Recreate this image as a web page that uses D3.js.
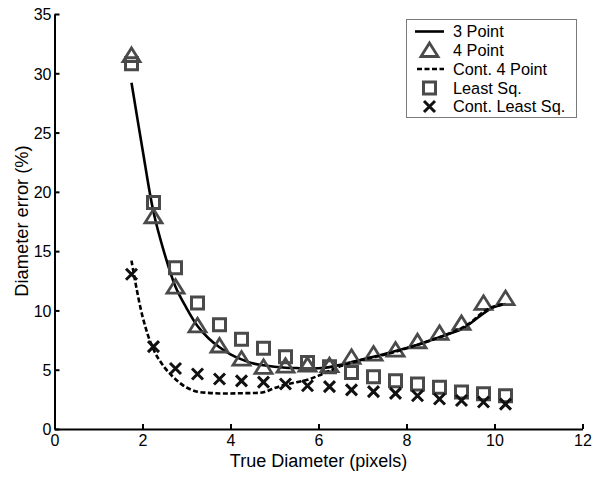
<!DOCTYPE html>
<html><head><meta charset="utf-8">
<script src="https://cdn.jsdelivr.net/npm/d3@7"></script>
<style>
body{margin:0;background:#fff;}
text{font-family:"Liberation Sans",Arial,sans-serif;}
</style></head>
<body><svg id="c" width="604" height="477"></svg>
<script>
// Marker x positions (true diameter, pixels)
const markerX = [1.75,2.25,2.75,3.25,3.75,4.25,4.75,5.25,5.75,6.25,6.75,7.25,7.75,8.25,8.75,9.25,9.75,10.25];
// 4 Point (triangles)
const fourPoint = [31.5,17.9,11.97,8.7,7.0,5.9,5.2,5.3,5.38,5.34,6.05,6.32,6.66,7.36,8.07,8.9,10.6,11.0];
// Least Sq. (squares)
const leastSq = [30.8,19.1,13.6,10.62,8.8,7.56,6.8,6.1,5.6,5.25,4.76,4.4,4.07,3.8,3.53,3.12,2.97,2.81];
// Cont. Least Sq. (x)
const contLeastSq = [13.05,6.95,5.1,4.64,4.22,4.06,3.95,3.8,3.65,3.57,3.3,3.15,3.0,2.8,2.53,2.4,2.28,2.1];
// Curve x positions
const curveX = [1.75,2.0,2.25,2.5,2.75,3.0,3.25,3.5,3.75,4.0,4.25,4.5,4.75,5.0,5.25,5.5,5.75,6.0,6.25,6.5,6.75,7.0,7.25,7.5,7.75,8.0,8.25,8.5,8.75,9.0,9.25,9.5,9.75,10.0,10.25];
// 3 Point (solid line)
const threePoint = [29.2,23.6,18.3,14.8,12.0,10.2,8.68,7.65,6.89,6.3,5.87,5.54,5.37,5.25,5.17,5.14,5.11,5.12,5.22,5.42,5.64,5.87,6.1,6.32,6.58,6.83,7.11,7.42,7.73,8.07,8.4,9.05,9.75,10.3,10.55];
// Cont. 4 Point (dashed line)
const contFourPoint = [14.2,9.5,6.7,5.2,4.2,3.5,3.15,3.05,3.0,3.0,3.02,3.03,3.1,3.45,3.75,3.95,4.15,4.5,4.9,5.3,5.6,5.85,6.05,6.27,6.52,6.8,7.1,7.4,7.75,8.1,8.5,9.1,9.9,10.35,10.55];
const xTicks = [0,2,4,6,8,10,12];
const yTicks = [0,5,10,15,20,25,30,35];
const legendLabels = ["3 Point","4 Point","Cont. 4 Point","Least Sq.","Cont. Least Sq."];
const xTitle = "True Diameter (pixels)";
const yTitle = "Diameter error (%)";

const svg = d3.select("#c");
const x = d3.scaleLinear().domain([0,12]).range([54.5,582.5]);
const y = d3.scaleLinear().domain([0,35]).range([429,14]);
const gray = "#4a4a4a";

// axes
const gx = svg.append("g").attr("transform","translate(0,429)")
  .call(d3.axisBottom(x).tickValues(xTicks).tickSizeInner(-5).tickSizeOuter(0).tickPadding(6));
const gy = svg.append("g").attr("transform","translate(54.5,0)")
  .call(d3.axisLeft(y).tickValues(yTicks).tickSizeInner(-5).tickSizeOuter(0).tickPadding(3));
[gx,gy].forEach(g=>{
  g.select(".domain").attr("stroke","#000").attr("stroke-width",2);
  g.selectAll(".tick line").attr("stroke","#000").attr("stroke-width",2);
  g.selectAll(".tick text").attr("fill","#000").style("font-size","16px").style("font-family","'Liberation Sans',Arial,sans-serif");
});
gy.selectAll(".tick text").attr("dy","0.36em");

svg.append("text").attr("x",318.5).attr("y",466.5).attr("text-anchor","middle")
  .style("font-size","18px").text(xTitle);
svg.append("text").attr("transform","translate(28,221) rotate(-90)").attr("text-anchor","middle")
  .style("font-size","18.3px").text(yTitle);

const line = d3.line().x((d,i)=>x(curveX[i])).y(d=>y(d)).curve(d3.curveCatmullRom.alpha(0.5));

const triPath = "M0,-7.5L8.5,6L-8.5,6Z";
const sqPath = "M-6,-6H6V6H-6Z";
const xPath = "M-5.5,-5.5L5.5,5.5M-5.5,5.5L5.5,-5.5";

// 3 Point line
svg.append("path").datum(threePoint).attr("d",line).attr("fill","none")
  .attr("stroke","#000").attr("stroke-width",2.6);
// 4 Point triangles
svg.append("g").selectAll("path").data(fourPoint).join("path")
  .attr("transform",(d,i)=>`translate(${x(markerX[i])},${y(d)})`)
  .attr("d",triPath).attr("fill","none").attr("stroke",gray).attr("stroke-width",2.8).attr("stroke-linejoin","miter");
// Cont. 4 Point dashed line
svg.append("path").datum(contFourPoint).attr("d",line).attr("fill","none")
  .attr("stroke","#000").attr("stroke-width",2.6).attr("stroke-dasharray","5,2.5");
// Least Sq squares
svg.append("g").selectAll("path").data(leastSq).join("path")
  .attr("transform",(d,i)=>`translate(${x(markerX[i])},${y(d)})`)
  .attr("d",sqPath).attr("fill","none").attr("stroke",gray).attr("stroke-width",3);
// Cont Least Sq x
svg.append("g").selectAll("path").data(contLeastSq).join("path")
  .attr("transform",(d,i)=>`translate(${x(markerX[i])},${y(d)})`)
  .attr("d",xPath).attr("fill","none").attr("stroke","#111").attr("stroke-width",3);

// legend
const lg = svg.append("g");
lg.append("rect").attr("x",406.5).attr("y",19.5).attr("width",170).attr("height",98)
  .attr("fill","#fff").attr("stroke","#7a7a7a").attr("stroke-width",1);
const rowY = [31.5,50.5,69,88,106.5];
legendLabels.forEach((lab,i)=>{
  const cy = rowY[i];
  if(i===0) lg.append("line").attr("x1",415).attr("x2",444).attr("y1",cy).attr("y2",cy).attr("stroke","#000").attr("stroke-width",2.6);
  if(i===1) lg.append("path").attr("transform",`translate(429.5,${cy})`).attr("d",triPath).attr("fill","none").attr("stroke",gray).attr("stroke-width",2.8);
  if(i===2) lg.append("line").attr("x1",417).attr("x2",444).attr("y1",cy).attr("y2",cy).attr("stroke","#000").attr("stroke-width",2.6).attr("stroke-dasharray","5,2.5");
  if(i===3) lg.append("path").attr("transform",`translate(429.5,${cy})`).attr("d",sqPath).attr("fill","none").attr("stroke",gray).attr("stroke-width",3);
  if(i===4) lg.append("path").attr("transform",`translate(429.5,${cy})`).attr("d",xPath).attr("fill","none").attr("stroke","#111").attr("stroke-width",3);
  lg.append("text").attr("x",453).attr("y",cy).attr("dy","0.36em").style("font-size","16.3px").text(lab);
});
</script></body></html>
